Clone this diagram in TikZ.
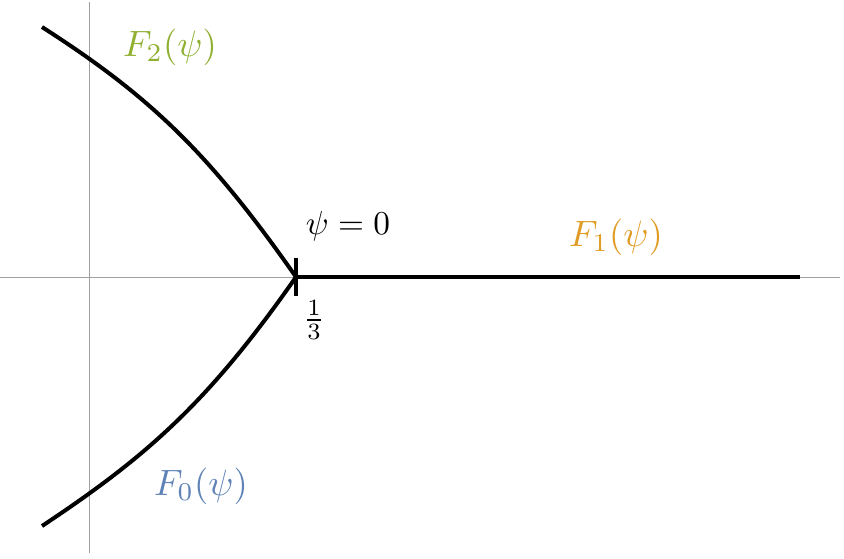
\documentclass[tikz,border=0pt]{standalone}
\usepackage{xcolor}
\usepackage{amsmath}
\usepackage{amssymb}
\usepackage{tikz}

\definecolor{rootblue}{rgb}{0.37,0.51,0.71}
\definecolor{rootorange}{rgb}{0.88,0.61,0.14}
\definecolor{rootgreen}{rgb}{0.56,0.69,0.19}

\begin{document}
\begin{tikzpicture}[x=0.3pt,y=0.3pt,yscale=-1,xscale=1]
%set diagram to the full frame
\path [use as bounding box] (0,0) rectangle (844,558);

%Axes
\draw [color={rgb, 255:red, 160; green, 160; blue, 160 }  ,line width=0.3]   (0,277) -- (840,277) ;
\draw [color={rgb, 255:red, 160; green, 160; blue, 160 }  ,line width=0.3]   (90,2) -- (90,553) ;

%Branch point
\coordinate (third) at (296,277) ;

%Curve F2
\draw [line width=1.2]   (third) .. controls (208,151) and (148,95) .. (42,27) ;
%Curve F0
\draw [line width=1.2]   (third) .. controls (208,403) and (146,457) .. (42,526) ;
%Curve F1
\draw [line width=1.2]   (third) -- (800,277) ;
%Tick
\draw [line width=1.1]   (296,258) -- (296,296) ;

% Text Node
\draw (170,47) node [inner sep=0.75pt, scale=1.1]  (lblTwo) {$\textcolor{rootgreen}{F_{2}(\psi)}$};
% Text Node
\draw (616,237) node [inner sep=0.75pt, scale=1.1]  (lblOne) {$\textcolor{rootorange}{F_{1}(\psi)}$};
% Text Node
\draw (201,486) node [inner sep=0.75pt, scale=1.1]  (lblZero) {$\textcolor{rootblue}{F_{0}(\psi)}$};
% Text Node
\draw (348,226) node [inner sep=0.75pt]  (lblPsi) {$\psi =0$};
% Text Node
\draw (314,320) node [inner sep=0.75pt]  (lblThird) {$\frac{1}{3}$};

\end{tikzpicture}
\end{document}
